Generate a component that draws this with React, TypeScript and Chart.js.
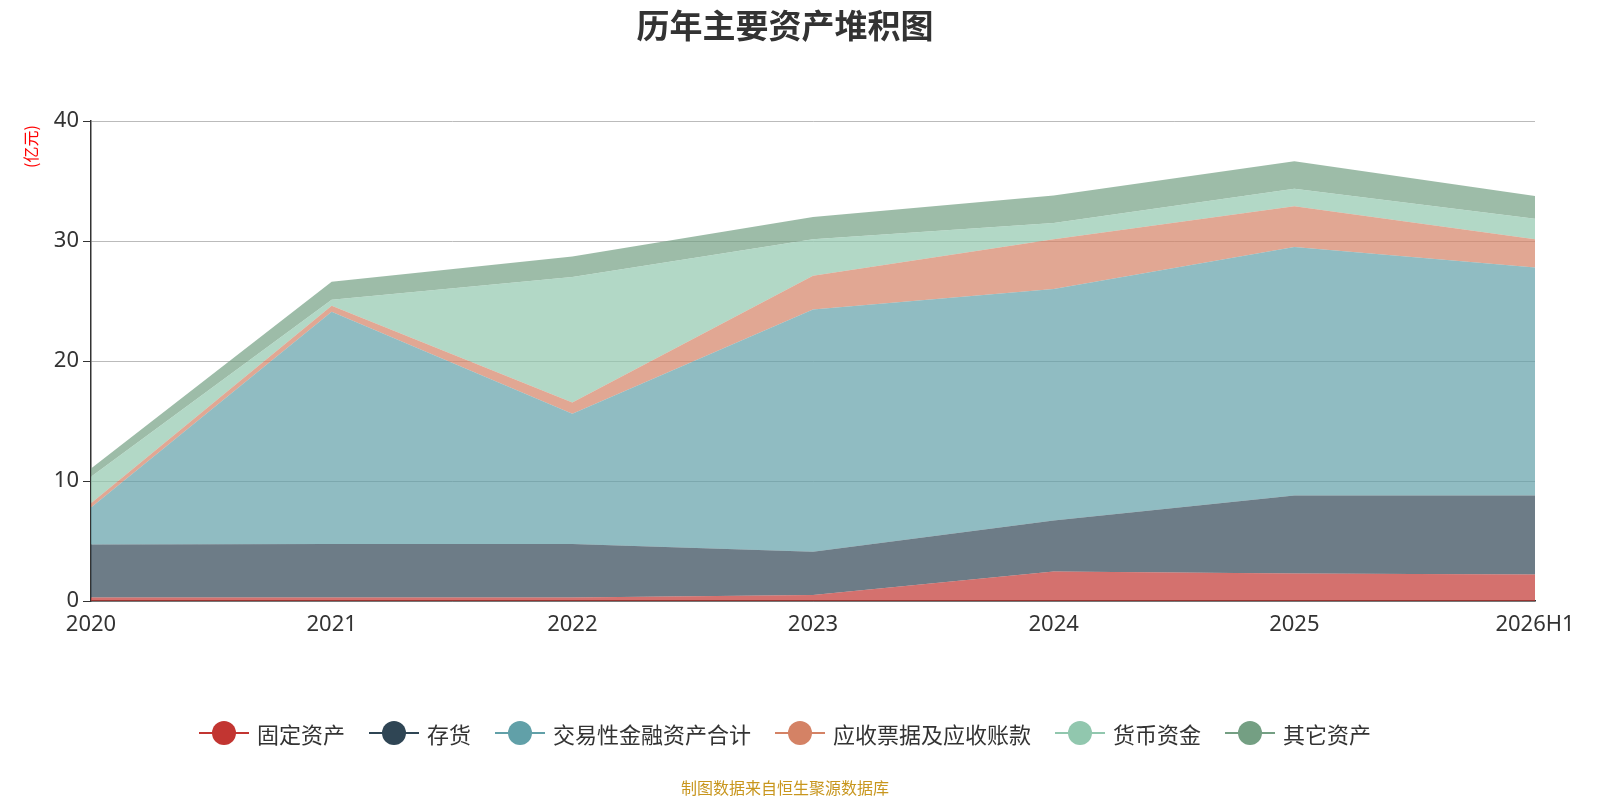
import React, { useEffect, useRef } from "react";
import { Chart, registerables } from "chart.js";
Chart.register(...registerables);

const categories = ["2020", "2021", "2022", "2023", "2024", "2025", "2026H1"];
const fixedAssets = [0.3, 0.3, 0.3, 0.5, 2.45, 2.3, 2.2];
const inventory = [4.4, 4.45, 4.45, 3.6, 4.25, 6.5, 6.6];
const tradingFin = [3.1, 19.35, 10.85, 20.2, 19.3, 20.7, 19.0];
const receivables = [0.35, 0.5, 0.95, 2.8, 4.15, 3.4, 2.35];
const cash = [2.2, 0.5, 10.45, 3.05, 1.35, 1.45, 1.7];
const others = [0.7, 1.5, 1.7, 1.85, 2.3, 2.3, 1.9];
const yTicks = [0, 10, 20, 30, 40];

const seriesNames = ["固定资产", "存货", "交易性金融资产合计", "应收票据及应收账款", "货币资金", "其它资产"];
const colors = ["#c23531", "#2f4554", "#61a0a8", "#d48265", "#91c7ae", "#749f83"];
const fills = [
  "rgba(194,53,49,0.7)",
  "rgba(47,69,84,0.7)",
  "rgba(97,160,168,0.7)",
  "rgba(212,130,101,0.7)",
  "rgba(145,199,174,0.7)",
  "rgba(116,159,131,0.7)",
];

export default function App() {
  const ref = useRef<HTMLCanvasElement>(null);
  useEffect(() => {
    const data = [fixedAssets, inventory, tradingFin, receivables, cash, others];
    const chart = new Chart(ref.current!, {
      type: "line",
      data: {
        labels: categories,
        datasets: data.map((d, i) => ({
          label: seriesNames[i],
          data: d,
          fill: i === 0 ? "origin" : "-1",
          backgroundColor: fills[i],
          borderColor: fills[i],
          borderWidth: 0,
          pointRadius: 0,
          tension: 0,
        })),
      },
      options: {
        animation: false,
        responsive: false,
        layout: { padding: { left: 0, right: 65, top: 121, bottom: 139 } },
        plugins: { legend: { display: false }, title: { display: false }, tooltip: { enabled: false } },
        scales: {
          x: {
            offset: false,
            grid: { display: false, drawTicks: true },
            border: { color: "#333", width: 1.5 },
            ticks: { color: "#333", font: { size: 22, family: "Noto Sans" }, maxRotation: 0, autoSkip: false },
            afterFit: (s: any) => { s.height = 60; },
          },
          y: {
            stacked: true,
            min: 0,
            max: 40,
            afterBuildTicks: (s: any) => { s.ticks = yTicks.map((v) => ({ value: v })); },
            grid: { color: "#bbb", tickLength: 8, tickColor: "#333" },
            border: { color: "#333", width: 1.5 },
            ticks: { color: "#333", font: { size: 22, family: "Noto Sans" }, padding: 4 },
            afterFit: (s: any) => { s.width = 91; },
          },
        },
      },
    });
    return () => chart.destroy();
  }, []);

  return (
    <div style={{ position: "absolute", left: 0, top: 0, width: 1600, height: 800, fontFamily: "Noto Sans CJK SC, Noto Sans, sans-serif", background: "#fff" }}>
      <canvas ref={ref} width={1600} height={800} style={{ position: "absolute", left: 0, top: 0 }} />
      <div style={{ position: "absolute", top: 0, left: 0, width: 1570, textAlign: "center", fontSize: 33, fontWeight: "bold", color: "#333" }}>历年主要资产堆积图</div>
      <div style={{ position: "absolute", left: 18, top: 142, transform: "rotate(-90deg)", transformOrigin: "left top", color: "red", fontSize: 16, whiteSpace: "nowrap" }}>
        <span style={{ position: "relative", left: -26 }}>(亿元)</span>
      </div>
      <div style={{ position: "absolute", top: 717, left: 0, width: 1570, display: "flex", justifyContent: "center", gap: 24, fontSize: 22, color: "#333" }}>
        {seriesNames.map((n, i) => (
          <div key={n} style={{ display: "flex", alignItems: "center" }}>
            <span style={{ position: "relative", width: 50, height: 24, marginRight: 8 }}>
              <span style={{ position: "absolute", left: 0, top: 11, width: 50, height: 2, background: colors[i] }} />
              <span style={{ position: "absolute", left: 13, top: 0, width: 24, height: 24, borderRadius: 12, background: colors[i] }} />
            </span>
            {n}
          </div>
        ))}
      </div>
      <div style={{ position: "absolute", top: 775, left: 0, width: 1570, textAlign: "center", fontSize: 16, color: "#c8961e" }}>制图数据来自恒生聚源数据库</div>
    </div>
  );
}
